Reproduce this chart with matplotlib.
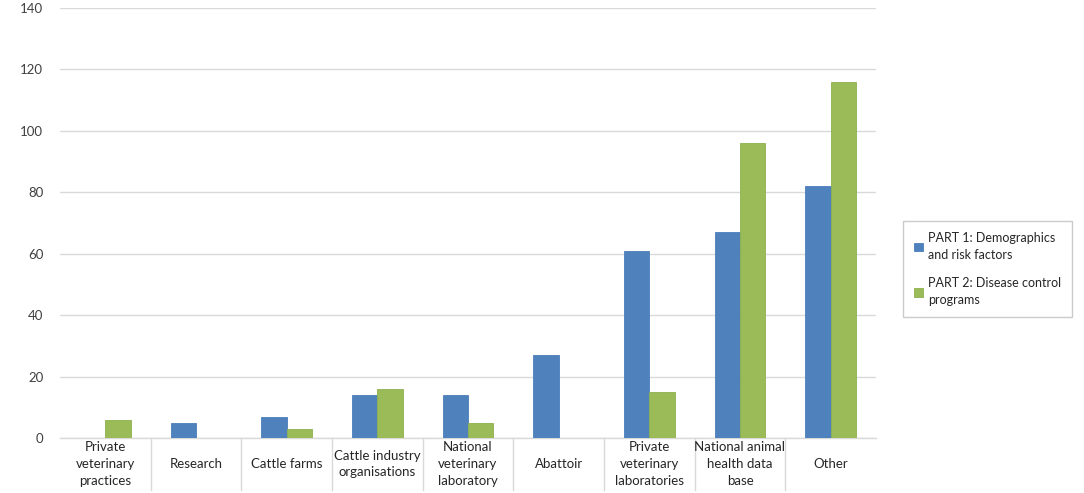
import matplotlib
matplotlib.use("Agg")
import matplotlib.pyplot as plt
import matplotlib.transforms as mtransforms
import numpy as np

plt.rcParams['font.family'] = ['Lato', 'DejaVu Sans']

categories = ["Private\nveterinary\npractices", "Research", "Cattle farms",
              "Cattle industry\norganisations", "National\nveterinary\nlaboratory",
              "Abattoir", "Private\nveterinary\nlaboratories",
              "National animal\nhealth data\nbase", "Other"]
part1 = [0, 5, 7, 14, 14, 27, 61, 67, 82]
part2 = [6, 0, 3, 16, 5, 0, 15, 96, 116]
series_names = ["PART 1: Demographics\nand risk factors",
                "PART 2: Disease control\nprograms"]
yticks = [0, 20, 40, 60, 80, 100, 120, 140]

fig = plt.figure(figsize=(10.84, 4.93), dpi=100)
ax = fig.add_axes([60/1084, 1-438/493, (876-60)/1084, (438-8)/493])

x = np.arange(len(categories))
w = 0.28
b1 = ax.bar(x - w/2, part1, w, color="#4F81BD", edgecolor="#4A7EBB", linewidth=0.6,
            label=series_names[0], zorder=3)
b2 = ax.bar(x + w/2, part2, w, color="#9BBB59", edgecolor="#8DB04E", linewidth=0.6,
            label=series_names[1], zorder=3)

ax.set_xlim(-0.5, len(categories) - 0.5)
ax.set_ylim(0, 140)
ax.set_yticks(yticks)
ax.yaxis.grid(True, color="#D9D9D9", linewidth=1.0, zorder=0)
ax.set_axisbelow(True)
for s in ["top", "right", "left"]:
    ax.spines[s].set_visible(False)
ax.spines["bottom"].set_color("#D9D9D9")
ax.spines["bottom"].set_linewidth(1.0)
ax.tick_params(axis="y", length=0, labelsize=9.5, colors="#404040", pad=12)
ax.set_xticks(x)
ax.set_xticklabels([])
ax.tick_params(axis="x", length=0)

# category labels centered in the region below the axis
trans = mtransforms.blended_transform_factory(ax.transData, ax.transAxes)
sep_len = 52 / 430
for i, lab in enumerate(categories):
    ax.text(i, -sep_len / 2, lab, transform=trans, ha="center", va="center",
            fontsize=9.5, color="#262626", linespacing=1.5, clip_on=False)

# category separators below axis
for i in range(1, len(categories)):
    ax.plot([i - 0.5, i - 0.5], [0, -sep_len], transform=trans, color="#D9D9D9",
            linewidth=1.0, clip_on=False)

leg = fig.legend(handles=[b1, b2], loc="center left",
                 bbox_to_anchor=(903/1084, 1-269/493), frameon=True, fancybox=False,
                 edgecolor="#BFBFBF", fontsize=9, handlelength=0.7, handleheight=0.7,
                 handletextpad=0.4, labelspacing=1.3, borderpad=0.9, borderaxespad=0.0)
leg.get_frame().set_linewidth(1.0)
for t in leg.get_texts():
    t.set_color("#262626")
    t.set_linespacing(1.5)

fig.savefig("out.png", dpi=100)
